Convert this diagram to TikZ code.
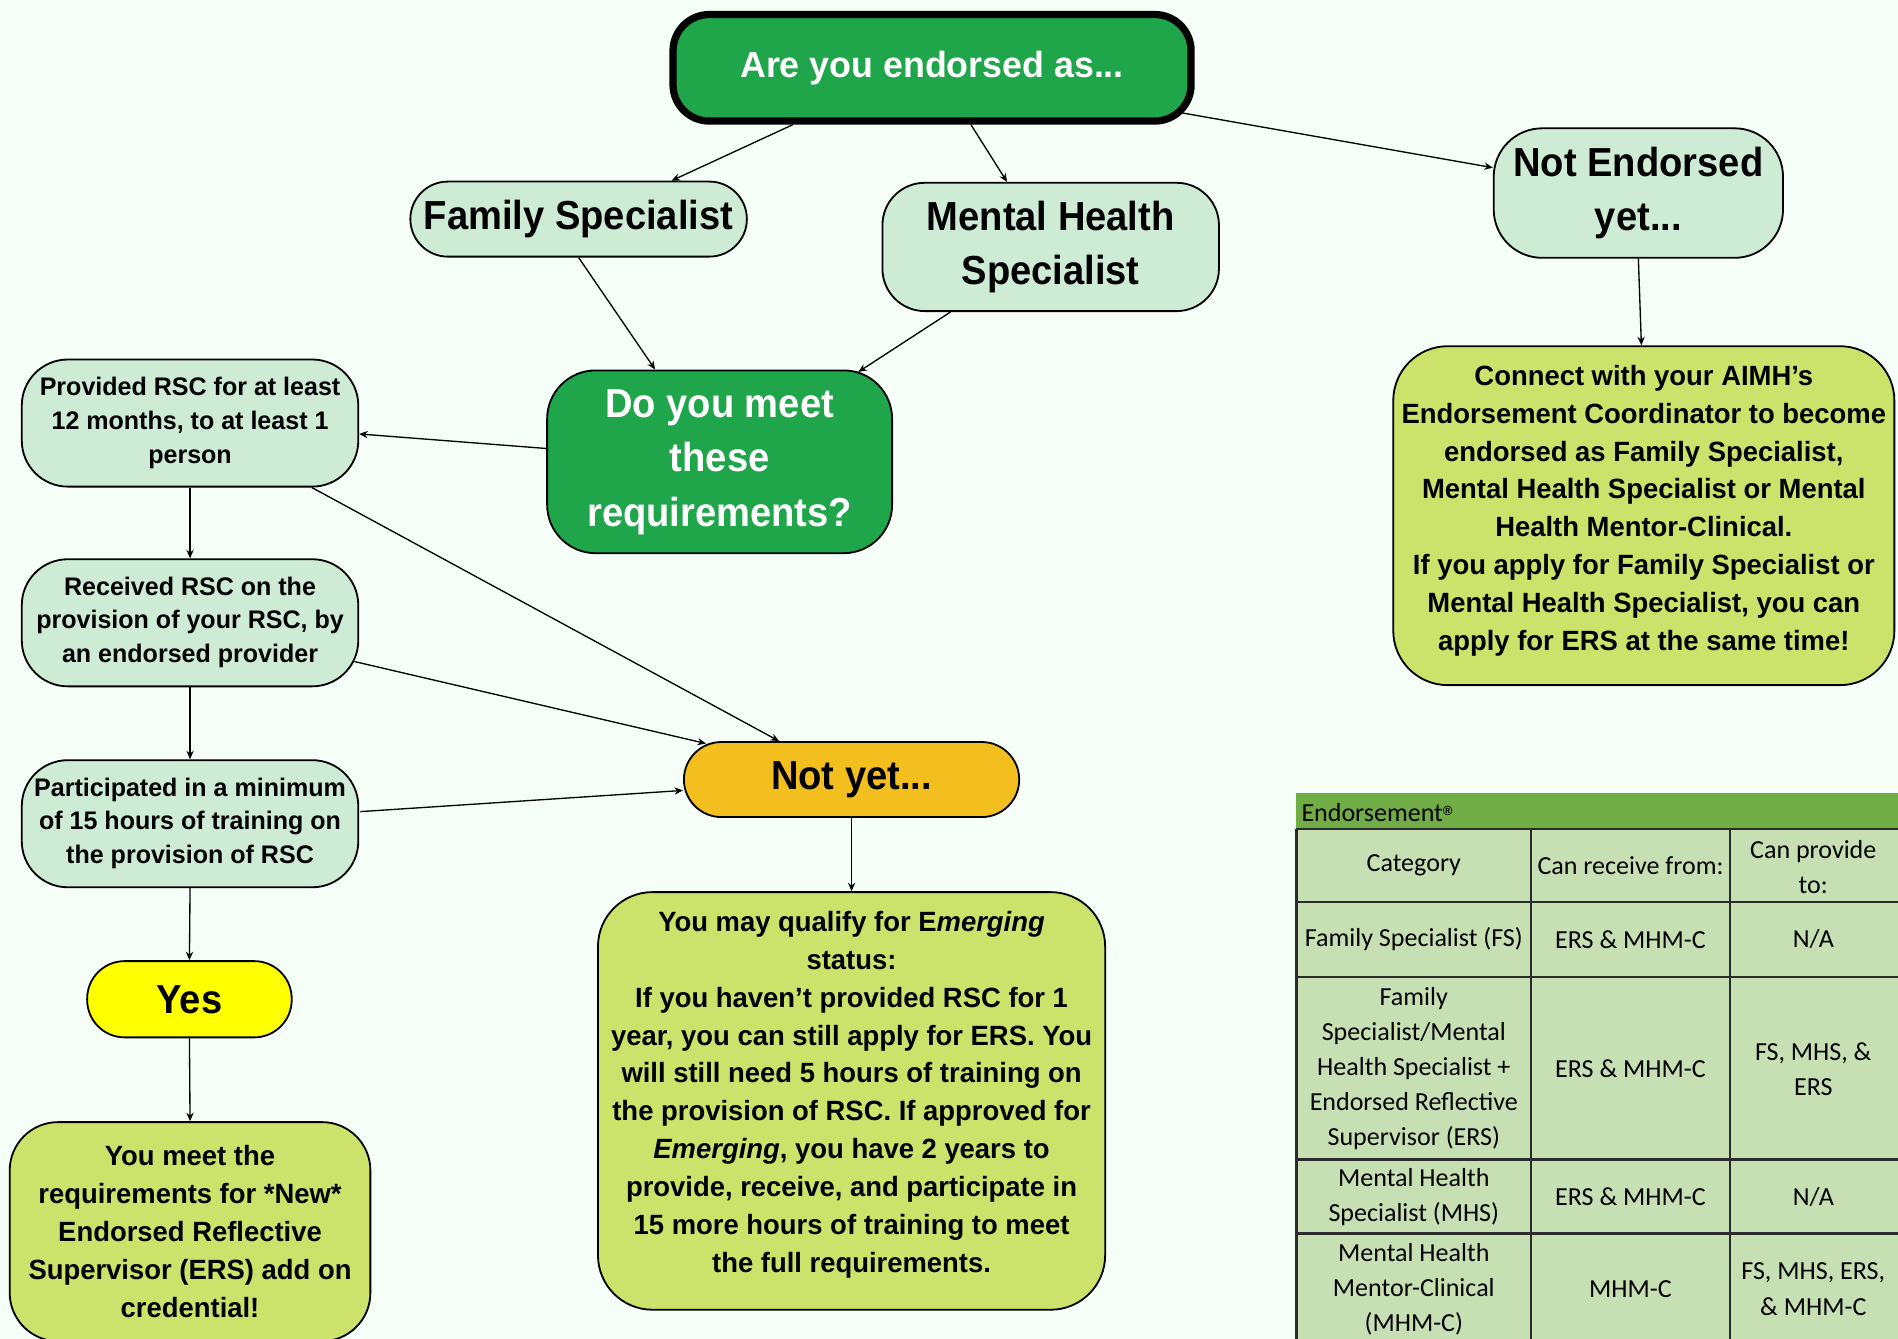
\documentclass[tikz,border=0pt]{standalone}
\usepackage{fontspec}
\setmainfont{Liberation Sans}
\newfontfamily\condA[FakeStretch=0.94]{Liberation Sans}
\newfontfamily\condB[FakeStretch=0.985]{Liberation Sans}
\newfontfamily\tabfont{Carlito}
\usetikzlibrary{arrows.meta,calc}
\definecolor{bgc}{HTML}{F5FFF8}
\definecolor{dkgreen}{HTML}{1FA64A}
\definecolor{mint}{HTML}{CDEBD5}
\definecolor{yesc}{HTML}{FFFF00}
\definecolor{notyetc}{HTML}{F2BF1F}
\definecolor{lime}{HTML}{CCE26B}
\definecolor{hdrgreen}{HTML}{70AD47}
\definecolor{cellgreen}{HTML}{C6E0B4}
\definecolor{gridc}{HTML}{2B2B2B}
\newcommand{\fsz}[2]{\fontsize{#1}{#2}\selectfont}
\begin{document}
\begin{tikzpicture}[x=1pt,y=-1pt,
  box/.style={draw=black, line width=1.5pt, rounded corners=#1, align=center, inner sep=0pt},
  box/.default=35pt,
  big/.style={font=\condA\bfseries\fsz{33.5}{45}},
  small/.style={font=\condB\bfseries\fsz{21}{28}},
  mid/.style={font=\condB\bfseries\fsz{23}{31.3}},
  conn/.style={-{Stealth[length=7pt,width=6pt]}, line width=1.1pt},
  cell/.style={font=\tabfont\fsz{21.5}{29}, align=center, inner sep=0pt}]
\useasboundingbox (0,0) rectangle (1568,1106);
\clip (0,0) rectangle (1568,1106);
\fill[bgc] (0,0) rectangle (1568,1106);

% nodes
\node[box=30pt, fill=dkgreen, line width=6pt, minimum width=428pt, minimum height=88pt, text=white, font=\condB\bfseries\fsz{30}{36}] (top) at (770,56) {Are you endorsed as...};
\node[box=31pt, fill=mint, big, minimum width=278pt, minimum height=62pt] (fs) at (478,181) {Family Specialist};
\node[box=35pt, fill=mint, big, minimum width=278pt, minimum height=106pt] (mhs) at (868,204) {Mental Health\\Specialist};
\node[box=40pt, fill=mint, big, minimum width=239pt, minimum height=107pt] (ne) at (1353.5,159.5) {Not Endorsed\\yet...};
\node[box=40pt, fill=dkgreen, big, text=white, minimum width=285pt, minimum height=151pt] (dy) at (594.5,381.5) {Do you meet\\these\\requirements?};
\node[box=38pt, fill=mint, small, minimum width=278pt, minimum height=105pt] (pr) at (157,349.5) {Provided RSC for at least\\12 months, to at least 1\\person\rule[-5pt]{0pt}{0pt}};
\node[box=38pt, fill=mint, small, minimum width=278pt, minimum height=105pt] (re) at (157,514.5) {Received RSC on the\\provision of your RSC, by\\an endorsed provider\rule[-5pt]{0pt}{0pt}};
\node[box=38pt, fill=mint, small, minimum width=278pt, minimum height=105pt] (pa) at (157,680.5) {Participated in a minimum\\of 15 hours of training on\\the provision of RSC\rule[-5pt]{0pt}{0pt}};
\node[box=31pt, fill=yesc, big, minimum width=169pt, minimum height=63pt] (yes) at (156.5,825.5) {Yes};
\node[box=40pt, fill=lime, mid, minimum width=298pt, minimum height=181pt] (ym) at (157,1017.5) {You meet the\\requirements for *New*\\Endorsed Reflective\\Supervisor (ERS) add on\\credential!};
\node[box=31pt, fill=notyetc, big, minimum width=277pt, minimum height=62pt] (ny) at (703.5,644) {Not yet...};
\node[box=45pt, fill=lime, mid, minimum width=419pt, minimum height=345pt] (qm) at (703.5,909.5) {You may qualify for E\textit{merging}\\status:\\If you haven’t provided RSC for 1\\year, you can still apply for ERS. You\\will still need 5 hours of training on\\the provision of RSC. If approved for\\\textit{Emerging}, you have 2 years to\\provide, receive, and participate in\\15 more hours of training to meet\\the full requirements.\rule[-15pt]{0pt}{0pt}};
\node[box=45pt, fill=lime, mid, minimum width=414pt, minimum height=280pt] (co) at (1358,426) {Connect with your AIMH’s\\Endorsement Coordinator to become\\endorsed as Family Specialist,\\Mental Health Specialist or Mental\\Health Mentor-Clinical.\\If you apply for Family Specialist or\\Mental Health Specialist, you can\\apply for ERS at the same time!\rule[-13pt]{0pt}{0pt}};

% connectors
\draw[conn] ($(top.south west)!0.235!(top.south east)$) -- ($(fs.north west)!0.775!(fs.north east)$);
\draw[conn] ($(top.south west)!0.574!(top.south east)$) -- ($(mhs.north west)!0.371!(mhs.north east)$);
\draw[conn] ($(top.south east)+(-12,-10)$) -- ($(ne.west)+(0,-21)$);
\draw[conn] (fs.south) -- ($(dy.north west)!0.314!(dy.north east)$);
\draw[conn] ($(mhs.south west)!0.204!(mhs.south east)$) -- ($(dy.north west)!0.9!(dy.north east)+(0,2)$);
\draw[conn] ($(dy.west)+(0,-11)$) -- ($(pr.east)+(0,9)$);
\draw[conn] (pr.south) -- (re.north);
\draw[conn] ($(pr.south west)!0.86!(pr.south east)$) -- ($(ny.north west)!0.285!(ny.north east)$);
\draw[conn] ($(re.east)+(-4,32)$) -- ($(ny.north west)+(19,2)$);
\draw[conn] ($(pa.east)+(1,-10)$) -- ($(ny.west)+(0,9)$);
\draw[conn] (re.south) -- (pa.north);
\draw[conn] (pa.south) -- (yes.north);
\draw[conn] (yes.south) -- (ym.north);
\draw[conn] (ny.south) -- (qm.north);
\draw[conn] (ne.south) -- ($(co.north)+(-2,0)$);

% table
\fill[hdrgreen] (1071,655) rectangle (1572,685);
\fill[cellgreen] (1071,685) rectangle (1572,1110);
\foreach \yy in {685,745,807,958,1019} \draw[gridc, line width=2pt] (1071,\yy) -- (1572,\yy);
\foreach \xx in {1071,1265,1429} \draw[gridc, line width=2pt] (\xx,685) -- (\xx,1110);
\node[cell, anchor=west] (th) at (1075,671) {Endorsement\raisebox{5pt}{\condB\bfseries\fsz{11}{11}®}};
\node[cell] (c11) at (1168,715) {Category};
\node[cell] (c12) at (1347,715) {Can receive from:};
\node[cell] (c13) at (1498,716) {Can provide\\to:};
\node[cell] (c21) at (1168,776) {Family Specialist (FS)};
\node[cell] (c22) at (1347,776) {ERS \& MHM-C};
\node[cell] (c23) at (1498,776) {N/A};
\node[cell] (c31) at (1168,883) {Family\\Specialist/Mental\\Health Specialist +\\Endorsed Reflective\\Supervisor (ERS)};
\node[cell] (c32) at (1347,883) {ERS \& MHM-C};
\node[cell] (c33) at (1498,883) {FS, MHS, \&\\ERS};
\node[cell] (c41) at (1168,989) {Mental Health\\Specialist (MHS)};
\node[cell] (c42) at (1347,989) {ERS \& MHM-C};
\node[cell] (c43) at (1498,989) {N/A};
\node[cell] (c51) at (1168,1065) {Mental Health\\Mentor-Clinical\\(MHM-C)};
\node[cell] (c52) at (1347,1065) {MHM-C};
\node[cell] (c53) at (1498,1065) {FS, MHS, ERS,\\\& MHM-C};
\end{tikzpicture}
\end{document}
